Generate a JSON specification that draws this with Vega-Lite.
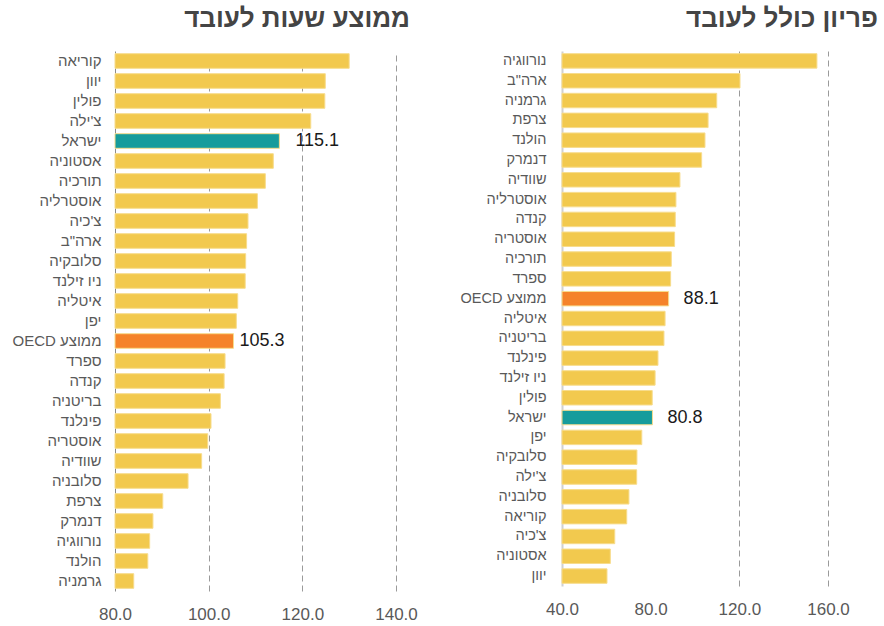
{
  "$schema": "https://vega.github.io/schema/vega-lite/v6.json",
  "background": "white",
  "padding": {"left": 12, "top": 6, "right": 0, "bottom": 0},
  "spacing": 42,
  "config": {
    "font": "Liberation Sans",
    "view": {"stroke": null},
    "title": {"fontSize": 26, "fontWeight": "bold", "color": "#444444", "anchor": "end", "frame": "group", "baseline": "alphabetic", "offset": 19, "font": "Liberation Sans"},
    "axisY": {"title": null, "ticks": false, "labelFontSize": 15, "labelColor": "#595959", "labelPadding": 14, "grid": false},
    "axisX": {"title": null, "ticks": false, "domain": false, "labelFontSize": 17, "labelColor": "#595959", "labelPadding": 15, "labelFlush": false, "format": ".1f",
      "grid": true, "gridColor": "#9a9a9a", "gridDash": [6, 4],
      "gridOpacity": {"condition": {"test": "datum.value === 80 || datum.value === 40", "value": 0}, "value": 1}}
  },
  "datasets": {
    "hours": [
      {"country": "קוריאה", "value": 130.0},
      {"country": "יוון", "value": 124.9},
      {"country": "פולין", "value": 124.8},
      {"country": "צ'ילה", "value": 121.8},
      {"country": "ישראל", "value": 115.1},
      {"country": "אסטוניה", "value": 113.8},
      {"country": "תורכיה", "value": 112.1},
      {"country": "אוסטרליה", "value": 110.4},
      {"country": "צ'כיה", "value": 108.4},
      {"country": "ארה\"ב", "value": 108.1},
      {"country": "סלובקיה", "value": 107.9},
      {"country": "ניו זילנד", "value": 107.8},
      {"country": "איטליה", "value": 106.2},
      {"country": "יפן", "value": 105.9},
      {"country": "\u2067ממוצע OECD\u2069", "value": 105.3},
      {"country": "ספרד", "value": 103.5},
      {"country": "קנדה", "value": 103.3},
      {"country": "בריטניה", "value": 102.5},
      {"country": "פינלנד", "value": 100.5},
      {"country": "אוסטריה", "value": 99.8},
      {"country": "שוודיה", "value": 98.5},
      {"country": "סלובניה", "value": 95.6},
      {"country": "צרפת", "value": 90.2},
      {"country": "דנמרק", "value": 88.1},
      {"country": "נורווגיה", "value": 87.4},
      {"country": "הולנד", "value": 87.0},
      {"country": "גרמניה", "value": 84.0}
    ],
    "prod": [
      {"country": "נורווגיה", "value": 155.0},
      {"country": "ארה\"ב", "value": 120.3},
      {"country": "גרמניה", "value": 109.8},
      {"country": "צרפת", "value": 105.9},
      {"country": "הולנד", "value": 104.5},
      {"country": "דנמרק", "value": 103.0},
      {"country": "שוודיה", "value": 93.2},
      {"country": "אוסטרליה", "value": 91.4},
      {"country": "קנדה", "value": 91.1},
      {"country": "אוסטריה", "value": 90.8},
      {"country": "תורכיה", "value": 89.3},
      {"country": "ספרד", "value": 89.0},
      {"country": "\u2067ממוצע OECD\u2069", "value": 88.1},
      {"country": "איטליה", "value": 86.5},
      {"country": "בריטניה", "value": 86.0},
      {"country": "פינלנד", "value": 83.3},
      {"country": "ניו זילנד", "value": 82.0},
      {"country": "פולין", "value": 80.7},
      {"country": "ישראל", "value": 80.8},
      {"country": "יפן", "value": 76.0},
      {"country": "סלובקיה", "value": 73.8},
      {"country": "צ'ילה", "value": 73.7},
      {"country": "סלובניה", "value": 70.2},
      {"country": "קוריאה", "value": 69.2},
      {"country": "צ'כיה", "value": 63.8},
      {"country": "אסטוניה", "value": 61.8},
      {"country": "יוון", "value": 60.3}
    ]
  },
  "hconcat": [
    {
      "width": 281,
      "height": 540,
      "title": {"text": "ממוצע שעות לעובד", "dx": 14},
      "data": {"name": "hours"},
      "encoding": {
        "y": {"field": "country", "type": "nominal", "sort": null,
          "scale": {"paddingInner": 0.27, "paddingOuter": 0.135},
          "axis": {"domainColor": "#8c8c8c", "domainWidth": 1}}
      },
      "layer": [
        {
          "mark": {"type": "bar", "stroke": "#f7dc8c", "strokeWidth": 1},
          "encoding": {
            "x": {"field": "value", "type": "quantitative", "scale": {"domain": [80, 140], "zero": false, "nice": false},
              "axis": {"values": [80, 100, 120, 140]}},
            "x2": {"datum": 80},
            "color": {"condition": [
              {"test": "datum.country === 'ישראל'", "value": "#169c9c"},
              {"test": "datum.country === '\u2067ממוצע OECD\u2069'", "value": "#f5832a"}
            ], "value": "#f2c94e"}
          }
        },
        {
          "transform": [{"filter": "datum.country === 'ישראל'"}],
          "mark": {"type": "text", "align": "left", "baseline": "middle", "dx": 16, "fontSize": 18, "color": "#1a1a1a"},
          "encoding": {"x": {"field": "value", "type": "quantitative"}, "text": {"field": "value", "type": "quantitative", "format": ".1f"}}
        },
        {
          "transform": [{"filter": "datum.country === '\u2067ממוצע OECD\u2069'"}],
          "mark": {"type": "text", "align": "left", "baseline": "middle", "dx": 6, "fontSize": 18, "color": "#1a1a1a"},
          "encoding": {"x": {"field": "value", "type": "quantitative"}, "text": {"field": "value", "type": "quantitative", "format": ".1f"}}
        }
      ]
    },
    {
      "width": 266,
      "height": 535,
      "title": {"text": "פריון כולל לעובד", "dx": 50},
      "data": {"name": "prod"},
      "encoding": {
        "y": {"field": "country", "type": "nominal", "sort": null,
          "scale": {"paddingInner": 0.27, "paddingOuter": 0.135},
          "axis": {"domainColor": "#d0d0d0", "domainWidth": 2, "labelFontSize": 14.5, "labelPadding": 16}}
      },
      "layer": [
        {
          "mark": {"type": "bar", "stroke": "#f7dc8c", "strokeWidth": 1},
          "encoding": {
            "x": {"field": "value", "type": "quantitative", "scale": {"domain": [40, 160], "zero": false, "nice": false},
              "axis": {"values": [40, 80, 120, 160]}},
            "x2": {"datum": 40},
            "color": {"condition": [
              {"test": "datum.country === 'ישראל'", "value": "#169c9c"},
              {"test": "datum.country === '\u2067ממוצע OECD\u2069'", "value": "#f5832a"}
            ], "value": "#f2c94e"}
          }
        },
        {
          "transform": [{"filter": "datum.country === 'ישראל' || datum.country === '\u2067ממוצע OECD\u2069'"}],
          "mark": {"type": "text", "align": "left", "baseline": "middle", "dx": 15, "fontSize": 18, "color": "#1a1a1a"},
          "encoding": {"x": {"field": "value", "type": "quantitative"}, "text": {"field": "value", "type": "quantitative", "format": ".1f"}}
        }
      ]
    }
  ]
}
